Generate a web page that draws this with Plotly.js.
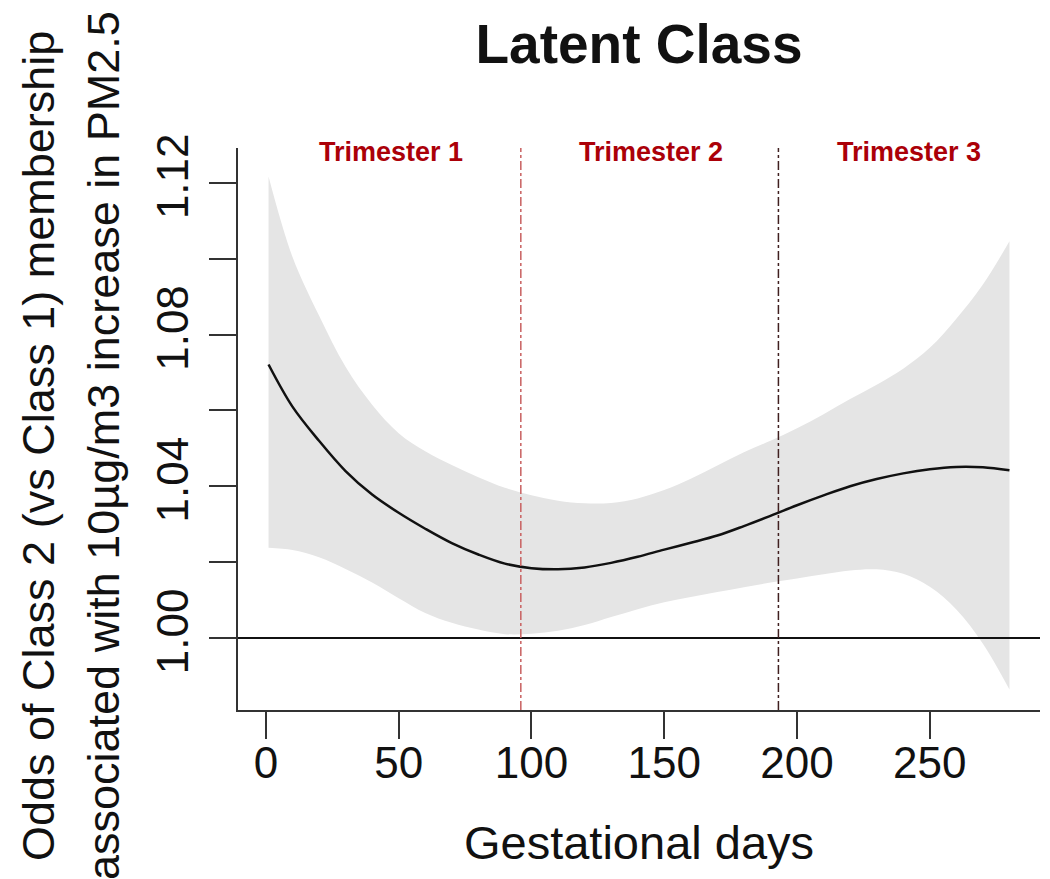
<!DOCTYPE html>
<html>
<head>
<meta charset="utf-8">
<script src="https://cdn.plot.ly/plotly-3.0.1.min.js"></script>
<style>html,body{margin:0;padding:0;background:#fff;}#chart{width:1050px;height:879px;}</style>
</head>
<body>
<div id="chart"></div>
<script>
// Gestational days at which values were read
const days = [1, 10, 20, 30, 40, 50, 60, 70, 80, 90, 100, 110, 120, 130, 140, 150, 160, 170, 180, 190, 200, 210, 220, 230, 240, 250, 260, 270, 280];
// Fitted odds ratio
const fit = [1.0721, 1.0610, 1.0520, 1.0440, 1.0378, 1.0330, 1.0288, 1.0250, 1.0220, 1.0196, 1.0184, 1.0181, 1.0186, 1.0198, 1.0214, 1.0233, 1.0251, 1.0270, 1.0295, 1.0322, 1.0350, 1.0376, 1.0400, 1.0419, 1.0434, 1.0445, 1.0451, 1.0450, 1.0442];
// Upper confidence bound
const upper = [1.1217, 1.1005, 1.0850, 1.0715, 1.0615, 1.0540, 1.0492, 1.0456, 1.0424, 1.0396, 1.0376, 1.0362, 1.0355, 1.0356, 1.0368, 1.0390, 1.0420, 1.0455, 1.0490, 1.0520, 1.0553, 1.0590, 1.0630, 1.0668, 1.0710, 1.0765, 1.0842, 1.0932, 1.1046];
// Lower confidence bound
const lower = [1.0238, 1.0232, 1.0213, 1.0182, 1.0146, 1.0105, 1.0066, 1.0040, 1.0022, 1.0010, 1.0011, 1.0019, 1.0034, 1.0055, 1.0076, 1.0094, 1.0108, 1.0121, 1.0134, 1.0146, 1.0157, 1.0168, 1.0178, 1.0181, 1.0169, 1.0135, 1.0075, 0.9985, 0.9864];

const xTicks = [0, 50, 100, 150, 200, 250];
const yTicks = [1.00, 1.02, 1.04, 1.06, 1.08, 1.10, 1.12];
const yTickText = ['1.00', '', '1.04', '', '1.08', '', '1.12'];
const trimesterBounds = [96, 193];
const trimesterLabels = ['Trimester 1', 'Trimester 2', 'Trimester 3'];
const trimesterLabelX = [47, 145, 242];
const refLine = 1.00;

const FONT = 'Liberation Sans, Arial, Helvetica, sans-serif';

const traces = [
  {x: days, y: upper, type: 'scatter', mode: 'lines', line: {width: 0, shape: 'spline', color: 'rgba(0,0,0,0)'}, hoverinfo: 'skip', showlegend: false},
  {x: days, y: lower, type: 'scatter', mode: 'lines', line: {width: 0, shape: 'spline', color: 'rgba(0,0,0,0)'}, fill: 'tonexty', fillcolor: '#e5e5e5', hoverinfo: 'skip', showlegend: false},
  {x: days, y: fit, type: 'scatter', mode: 'lines', line: {width: 2.5, shape: 'spline', color: '#111'}, showlegend: false}
];

const shapes = [
  {type: 'line', xref: 'paper', x0: 0, x1: 1, yref: 'y', y0: refLine, y1: refLine, line: {color: '#111', width: 2}, layer: 'above'},
  {type: 'line', xref: 'x', x0: trimesterBounds[0], x1: trimesterBounds[0], yref: 'paper', y0: 0, y1: 1, line: {color: '#c86060', width: 1.5, dash: 'dashdot'}, layer: 'above'},
  {type: 'line', xref: 'x', x0: trimesterBounds[1], x1: trimesterBounds[1], yref: 'paper', y0: 0, y1: 1, line: {color: '#402020', width: 1.5, dash: 'dashdot'}, layer: 'above'}
];

const annotations = trimesterLabels.map((t, i) => ({
  text: '<b>' + t + '</b>', x: trimesterLabelX[i], xref: 'x', y: 1.1281, yref: 'y',
  xanchor: 'center', yanchor: 'middle', showarrow: false,
  font: {family: FONT, size: 27, color: '#ab0008'}
}));
annotations.push(
  {text: 'Odds of Class 2 (vs Class 1) membership', xref: 'paper', x: 0, xshift: -200, yref: 'paper', y: 0.5, yshift: -17,
   textangle: -90, xanchor: 'center', yanchor: 'middle', showarrow: false, font: {family: FONT, size: 45, color: '#111'}},
  {text: 'associated with 10µg/m3 increase in PM2.5', xref: 'paper', x: 0, xshift: -135, yref: 'paper', y: 0.5, yshift: -17,
   textangle: -90, xanchor: 'center', yanchor: 'middle', showarrow: false, font: {family: FONT, size: 45, color: '#111'}}
);

const layout = {
  width: 1050, height: 879,
  margin: {l: 238, r: 10, t: 148, b: 169},
  paper_bgcolor: '#fff', plot_bgcolor: '#fff',
  font: {family: FONT, color: '#111'},
  title: {text: '<b>Latent Class</b>', font: {family: FONT, size: 55, color: '#111'}, x: 0.5, xref: 'paper', xanchor: 'center', y: 0.95, yref: 'container', yanchor: 'middle'},
  xaxis: {
    range: [-10.5, 291.5], tickvals: xTicks, ticktext: xTicks.map(String),
    ticks: 'outside', ticklen: 27, tickwidth: 2, tickcolor: '#333',
    showline: true, linecolor: '#333', linewidth: 2, mirror: false,
    showgrid: false, zeroline: false, ticklabelstandoff: -14,
    tickfont: {family: FONT, size: 44, color: '#111'},
    title: {text: 'Gestational days', font: {family: FONT, size: 47, color: '#111'}, standoff: 40}
  },
  yaxis: {
    range: [0.9810, 1.1292], tickvals: yTicks, ticktext: yTickText,
    ticks: 'outside', ticklen: 27, tickwidth: 2, tickcolor: '#333', tickangle: -90,
    showline: true, linecolor: '#333', linewidth: 2, mirror: false,
    showgrid: false, zeroline: false, ticklabelstandoff: 3,
    tickfont: {family: FONT, size: 44, color: '#111'}
  },
  shapes: shapes,
  annotations: annotations,
  showlegend: false
};

Plotly.newPlot('chart', traces, layout, {displayModeBar: false, staticPlot: true});
</script>
</body>
</html>
